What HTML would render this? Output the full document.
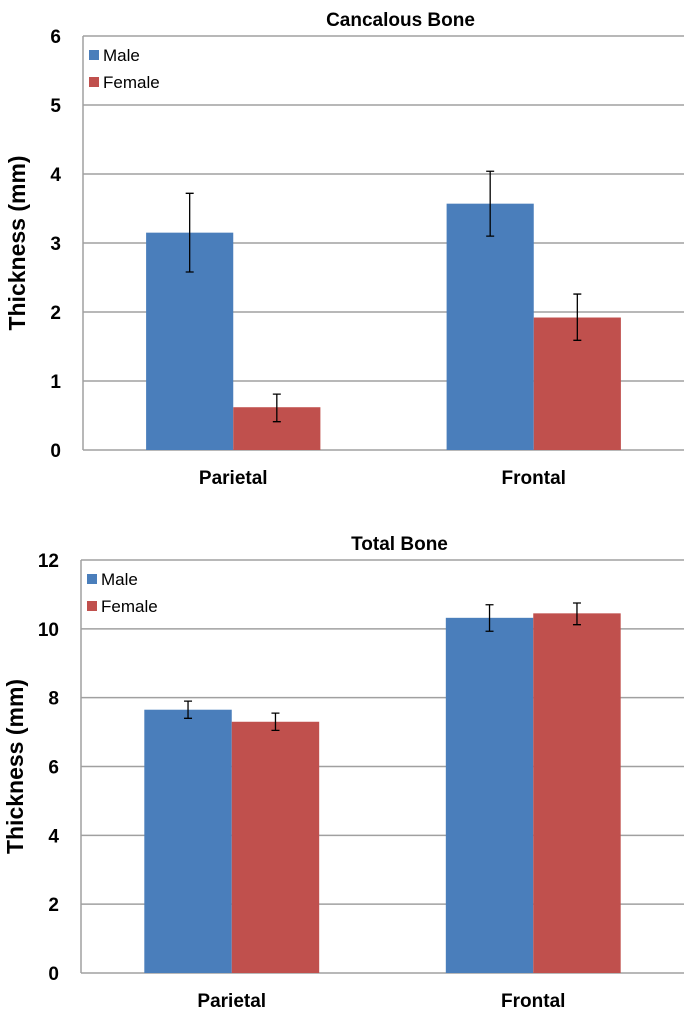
<!DOCTYPE html>
<html><head><meta charset="utf-8"><style>
body{margin:0;background:#fff}
svg{display:block;font-family:"Liberation Sans",Arial,sans-serif}
</style></head><body>
<svg id="c" width="686" height="1017"></svg>
<script>
const categories=["Parietal","Frontal"];
const series=["Male","Female"];
const topMale=[3.15,3.57], topFemale=[0.62,1.92];
const topMaleLo=[2.58,3.1], topMaleHi=[3.72,4.04];
const topFemaleLo=[0.41,1.59], topFemaleHi=[0.81,2.26];
const topTicks=[0,1,2,3,4,5,6];
const botMale=[7.65,10.32], botFemale=[7.3,10.45];
const botMaleLo=[7.4,9.93], botMaleHi=[7.9,10.7];
const botFemaleLo=[7.05,10.12], botFemaleHi=[7.55,10.75];
const botTicks=[0,2,4,6,8,10,12];
const colors=["#4a7ebb","#c0504d"];
const NS="http://www.w3.org/2000/svg";
const svg=document.getElementById('c');
function mk(t,a,p){const e=document.createElementNS(NS,t);for(const k in a)e.setAttribute(k,a[k]);(p||svg).appendChild(e);return e;}
function chart(name,title,top,bottom,left,right,max,ticks,vals,lo,hi){
  const g=mk('g',{});
  
  
  const y=v=>bottom-(v/max)*(bottom-top);
  const t=mk('text',{x:(left+right)/2+17,y:top-10,'text-anchor':'middle','font-size':19,'font-weight':'bold'},g);t.textContent=title;
  
  ticks.forEach(v=>{
    mk('line',{x1:left,x2:right,y1:y(v),y2:y(v),stroke:'#a0a0a0','stroke-width':1.5},g);
    const l=mk('text',{x:left-22,y:y(v)+7,'text-anchor':'end','font-size':19,'font-weight':'bold'},g);l.textContent=v;
    
  });
  mk('line',{x1:left,x2:left,y1:top,y2:bottom,stroke:'#a0a0a0','stroke-width':1.5},g);
  const yt=mk('text',{transform:`translate(${left-58},${(top+bottom)/2}) rotate(-90)`,'text-anchor':'middle','font-size':23,'font-weight':'bold'},g);yt.textContent="Thickness (mm)";
  
  const band=(right-left)/categories.length, bw=band*0.29;
  categories.forEach((c,i)=>{
    const cx=left+band*(i+0.5);
    series.forEach((s,j)=>{
      const x=cx-bw+j*bw, v=vals[j][i];
      const r=mk('rect',{x:x,y:y(v),width:bw,height:bottom-y(v),fill:colors[j]},g);
      
      const ex=x+bw/2;
      const e=mk('path',{d:`M${ex},${y(lo[j][i])}V${y(hi[j][i])}M${ex-4},${y(lo[j][i])}h8M${ex-4},${y(hi[j][i])}h8`,stroke:'#000','stroke-width':1.3,fill:'none'},g);
      
    });
    const cl=mk('text',{x:cx,y:bottom+34,'text-anchor':'middle','font-size':19,'font-weight':'bold'},g);cl.textContent=c;
    
  });
  series.forEach((s,j)=>{
    const ly=top+20+j*27;
    const sw=mk('rect',{x:left+6,y:ly-6,width:10,height:10,fill:colors[j]},g);
    
    const lt=mk('text',{x:left+20,y:ly+5,'font-size':17},g);lt.textContent=s;
    
  });
}
chart('cancalous-chart','Cancalous Bone',36,450,83,684,6,topTicks,[topMale,topFemale],[topMaleLo,topFemaleLo],[topMaleHi,topFemaleHi]);
chart('total-chart','Total Bone',560,973,81,684,12,botTicks,[botMale,botFemale],[botMaleLo,botFemaleLo],[botMaleHi,botFemaleHi]);
</script>
</body></html>
